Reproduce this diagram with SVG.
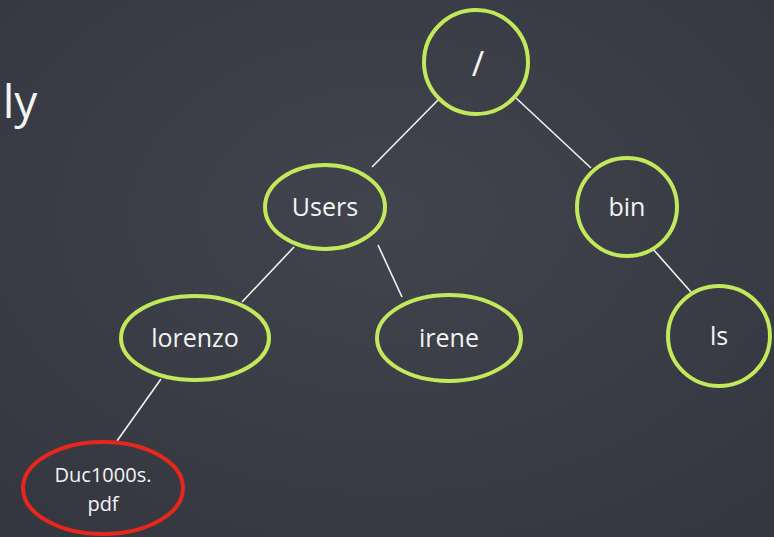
<svg xmlns="http://www.w3.org/2000/svg" width="774" height="537" viewBox="0 0 774 537">
  <defs>
    <radialGradient id="board" cx="0.5" cy="0.4" r="0.8">
      <stop offset="0" stop-color="#41444d"/>
      <stop offset="1" stop-color="#33363e"/>
    </radialGradient>
  </defs>
  <style>
    .node { fill: none; stroke: #c2e85c; stroke-width: 4; }
    .hl { fill: none; stroke: #e8261c; stroke-width: 4; }
    .edge { stroke: #f2f2f2; stroke-width: 1.6; }
    text { fill: #f4f4f4; font-family: "Open Sans", "Liberation Sans", sans-serif; text-anchor: middle; }
    .lbl { font-size: 25px; }
    .small { font-size: 20px; }
  </style>
  <rect width="774" height="537" fill="url(#board)"/>
  <text x="20" y="118" style="font-size:46px">ly</text>

  <g id="edges">
    <line class="edge" x1="440" y1="98" x2="372" y2="167"/>
    <line class="edge" x1="516" y1="98" x2="591" y2="168"/>
    <line class="edge" x1="294" y1="247" x2="242" y2="302"/>
    <line class="edge" x1="378" y1="245" x2="402" y2="297"/>
    <line class="edge" x1="652" y1="248" x2="691" y2="292"/>
    <line class="edge" x1="161" y1="379" x2="117" y2="441"/>
  </g>

  <g id="root">
    <circle class="node" cx="476" cy="62" r="52"/>
    <text x="478" y="76" style="font-size:34px">/</text>
  </g>
  <g id="users">
    <ellipse class="node" cx="325" cy="207" rx="60" ry="42"/>
    <text class="lbl" x="325" y="216">Users</text>
  </g>
  <g id="bin">
    <ellipse class="node" cx="627" cy="207" rx="50" ry="49"/>
    <text class="lbl" x="627" y="216">bin</text>
  </g>
  <g id="lorenzo">
    <ellipse class="node" cx="195" cy="338" rx="74" ry="42"/>
    <text class="lbl" x="195" y="347">lorenzo</text>
  </g>
  <g id="irene">
    <ellipse class="node" cx="449" cy="338" rx="72" ry="43"/>
    <text class="lbl" x="449" y="347">irene</text>
  </g>
  <g id="ls">
    <ellipse class="node" cx="719" cy="336" rx="51" ry="50"/>
    <text class="lbl" x="719" y="345">ls</text>
  </g>
  <g id="duc1000s">
    <ellipse class="hl" cx="103" cy="488" rx="80" ry="46"/>
    <text class="small" x="103" y="482">Duc1000s.</text>
    <text class="small" x="103" y="511">pdf</text>
  </g>
</svg>
